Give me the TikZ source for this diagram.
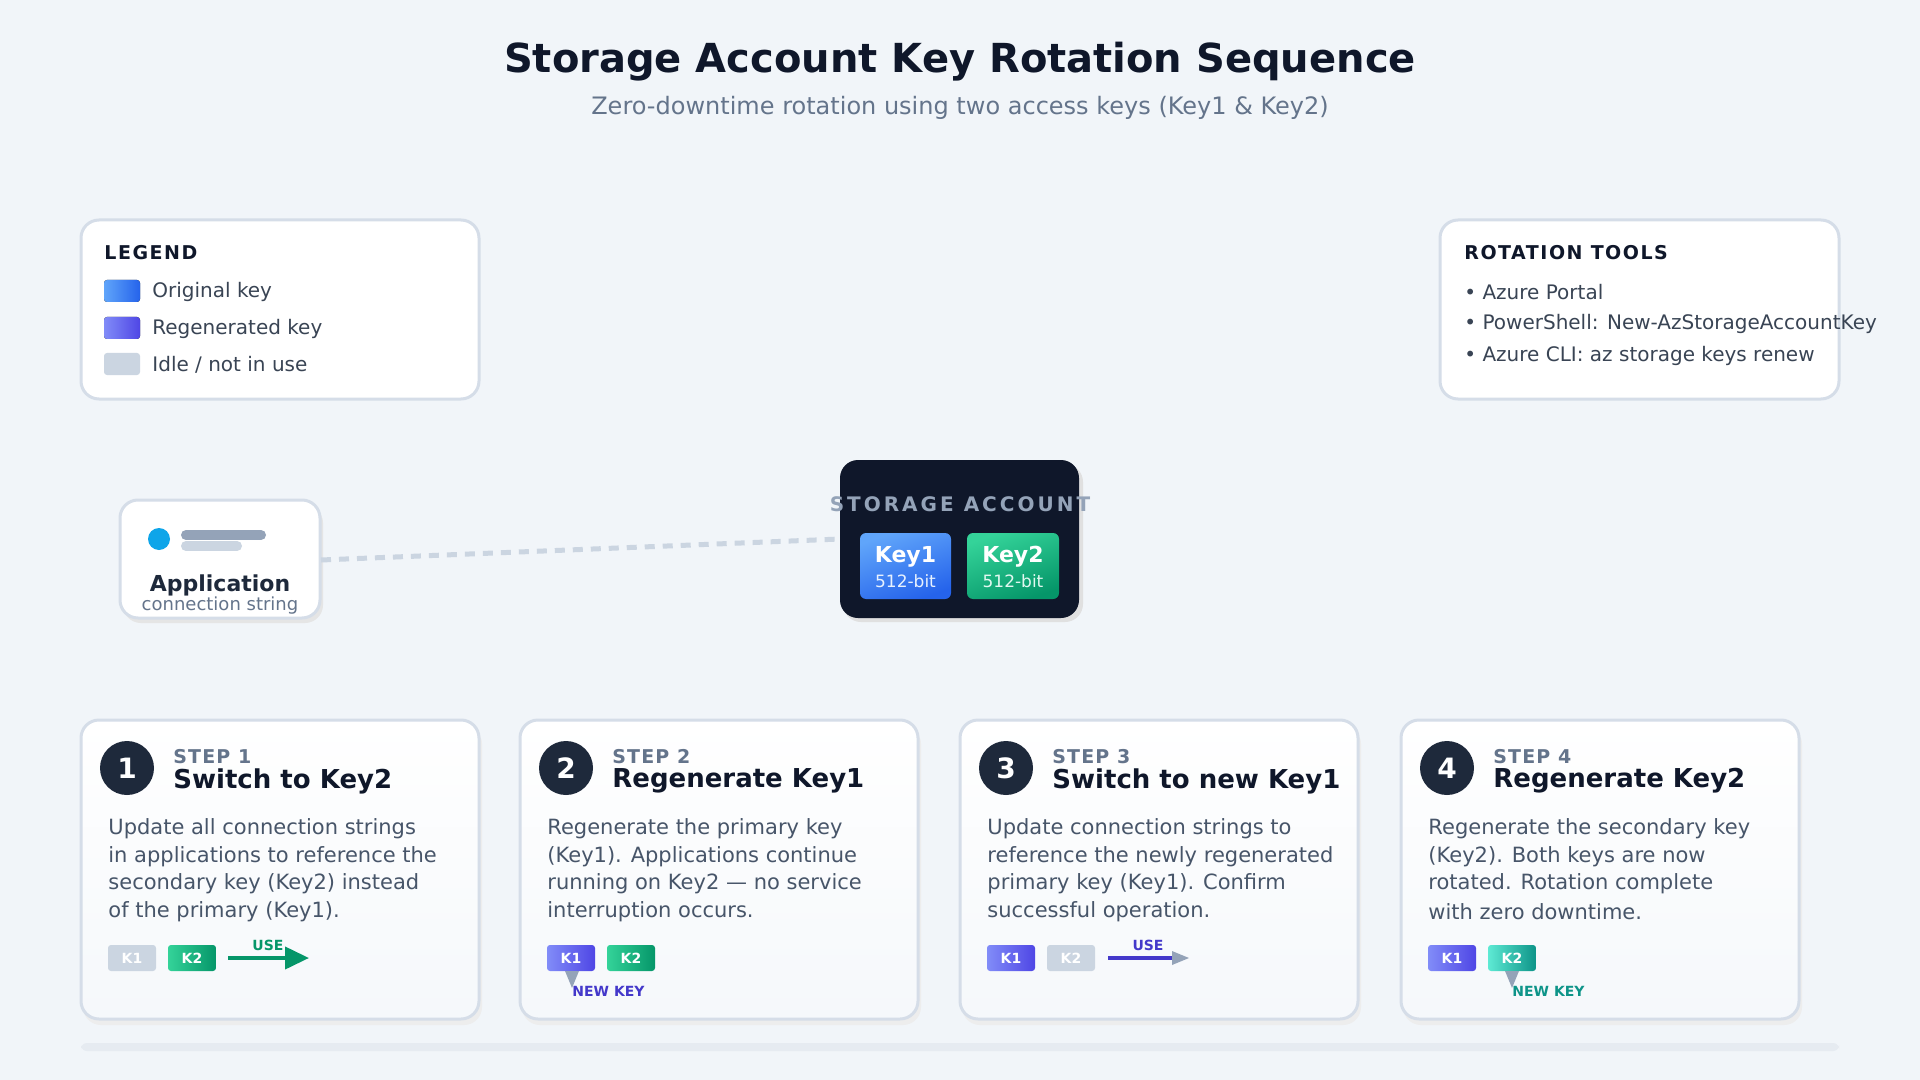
\documentclass[tikz,border=0pt]{standalone}
\usepackage{fontspec}
\setmainfont{DejaVu Sans}
\usetikzlibrary{shapes.geometric,arrows.meta}
\definecolor{bg}{HTML}{F1F5F9}
\definecolor{dark}{HTML}{0F172A}
\definecolor{navy}{HTML}{1E293B}
\definecolor{slate}{HTML}{64748B}
\definecolor{txt}{HTML}{475569}
\definecolor{bord}{HTML}{D5DDE8}
\definecolor{idle}{HTML}{CBD5E1}
\definecolor{sky}{HTML}{0EA5E9}
\definecolor{gline}{HTML}{94A3B8}
\definecolor{blueA}{HTML}{60A5FA}
\definecolor{blueB}{HTML}{2563EB}
\definecolor{purA}{HTML}{818CF8}
\definecolor{purB}{HTML}{4F46E5}
\definecolor{grnA}{HTML}{34D399}
\definecolor{grnB}{HTML}{059669}
\definecolor{tealA}{HTML}{5EEAD4}
\definecolor{tealB}{HTML}{0D9488}
\definecolor{indigo}{HTML}{4338CA}
\tikzset{
  card/.style={draw=bord,line width=1.5pt,rounded corners=9pt,fill=white},
  chip/.style={minimum width=24pt,minimum height=13pt,inner sep=0pt,rounded corners=1.5pt,text=white,font=\bfseries\fontsize{7}{8}\selectfont},
  body/.style={anchor=west,inner sep=0pt,text=txt,font=\fontsize{10.5}{12}\selectfont},
  boxttl/.style={anchor=west,inner sep=0pt,text=dark,font=\bfseries\fontsize{9.5}{11}\selectfont},
  item/.style={anchor=west,inner sep=0pt,text=txt!80!black,font=\fontsize{10}{12}\selectfont},
}
\begin{document}
\begin{tikzpicture}[x=0.5pt,y=-0.5pt]
\fill[bg] (0,0) rectangle (1920,1080);
\useasboundingbox (0,0) rectangle (1920,1080);
\node (title) at (960,62) {\bfseries\fontsize{20}{23}\selectfont\color{dark}Storage Account Key Rotation Sequence};
\node (sub) at (960,108) {\fontsize{12}{14}\selectfont\color{slate}Zero-downtime rotation using two access keys (Key1 \& Key2)};
% legend
\draw[card] (81,220) rectangle (479,399);
\node[boxttl] (lt) at (104,253) {\addfontfeature{LetterSpace=8}LEGEND};
\fill[left color=blueA,right color=blueB,rounded corners=1.5pt] (104,280) rectangle (140,302);
\fill[left color=purA,right color=purB,rounded corners=1.5pt] (104,317) rectangle (140,339);
\fill[idle,rounded corners=1.5pt] (104,353) rectangle (140,375);
\node[item] (l1) at (152,292) {Original key};
\node[item] (l2) at (152,329) {Regenerated key};
\node[item] (l3) at (152,365) {Idle / not in use};
% tools
\draw[card] (1440,220) rectangle (1839,399);
\node[boxttl] (tt) at (1464,253) {\addfontfeature{LetterSpace=8}ROTATION TOOLS};
\node[item] (t1) at (1464,292) {• Azure Portal};
\node[item] (t2) at (1464,324) {• PowerShell: New-AzStorageAccountKey};
\node[item] (t3) at (1464,356) {• Azure CLI: az storage keys renew};
% app
\fill[black!10,rounded corners=9pt] (123,505) rectangle (323,623);
\draw[card] (120,500) rectangle (320,618);
\coordinate (appE) at (321,560);
\fill[sky] (159,539) circle[radius=11];
\draw[line width=5pt,line cap=round,gline] (186,535) -- (261,535);
\draw[line width=5pt,line cap=round,idle] (186,546) -- (237,546);
\node[inner sep=0pt] (app) at (220,585) {\bfseries\fontsize{11}{13}\selectfont\color{navy}Application};
\node[inner sep=0pt] (appsub) at (220,606) {\fontsize{9}{11}\selectfont\color{slate}connection string};
% storage
\fill[black!12,rounded corners=9pt] (843,464) rectangle (1083,622);
\fill[dark,rounded corners=9pt] (840,460) rectangle (1079,618);
\coordinate (stW) at (840,539);
\draw[idle,line width=2.5pt,dash pattern=on 5pt off 4pt] (appE) -- (stW);
\node[inner sep=0pt] (sa) at (960,504) {\bfseries\fontsize{10}{12}\selectfont\addfontfeature{LetterSpace=15}\color{gline}STORAGE ACCOUNT};
\shade[top color=blueA,bottom color=blueB,shading angle=20,rounded corners=3pt] (860,533) rectangle (951,599);
\shade[top color=grnA,bottom color=grnB,shading angle=20,rounded corners=3pt] (967,533) rectangle (1059,599);
\node[inner sep=0pt] (k1) at (905.5,557) {\bfseries\fontsize{11}{13}\selectfont\color{white}Key1};
\node[inner sep=0pt] (k1b) at (905.5,581) {\fontsize{8.5}{10}\selectfont\color{white!85!blueA}512-bit};
\node[inner sep=0pt] (k2) at (1013,557) {\bfseries\fontsize{11}{13}\selectfont\color{white}Key2};
\node[inner sep=0pt] (k2b) at (1013,581) {\fontsize{8.5}{10}\selectfont\color{white!85!grnA}512-bit};
% steps
\foreach \i/\x/\t/\la/\lb/\lc/\ld in {
 1/81/Switch to Key2/Update all connection strings/in applications to reference the/secondary key (Key2) instead/of the primary (Key1).,
 2/520/Regenerate Key1/Regenerate the primary key/(Key1). Applications continue/running on Key2 — no service/interruption occurs.,
 3/960/Switch to new Key1/Update connection strings to/reference the newly regenerated/primary key (Key1). Confirm/successful operation.,
 4/1401/Regenerate Key2/Regenerate the secondary key/(Key2). Both keys are now/rotated. Rotation complete/with zero downtime.}{
 \fill[black!7,rounded corners=9pt] (\x+2,726) rectangle (\x+401,1025);
 \draw[card,top color=white,bottom color=bg!70!white] (\x,720) rectangle (\x+398,1019);
 \fill[navy] (\x+46,768) circle[radius=27];
 \node[inner sep=0pt,text=white,font=\bfseries\fontsize{14}{16}\selectfont] (c\i) at (\x+46,768) {\i};
 \node[anchor=west,inner sep=0pt,text=slate,font=\bfseries\fontsize{9.5}{11}\selectfont] (s\i) at (\x+92,757) {\addfontfeature{LetterSpace=6}STEP \i};
 \node[anchor=west,inner sep=0pt,text=dark,font=\bfseries\fontsize{13}{15}\selectfont] (h\i) at (\x+92,781) {\t};
 \node[body] (ba\i) at (\x+27,829) {\la};
 \node[body] (bb\i) at (\x+27,857) {\lb};
 \node[body] (bc\i) at (\x+27,884) {\lc};
 \node[body] (bd\i) at (\x+27,912) {\ld};
}
% step chips
\node[chip,fill=idle] (a1) at (132,958) {K1};
\node[chip,left color=grnA,right color=grnB] (a2) at (192,958) {K2};
\coordinate (u1s) at (228,958); \coordinate (u1e) at (309,958);
\draw[grnB,line width=2pt,-{Triangle[length=12pt,width=11pt]}] (u1s) -- (u1e);
\node[inner sep=0pt,text=grnB,font=\bfseries\fontsize{7}{8}\selectfont] (use1) at (268,945) {USE};

\node[chip,left color=purA,right color=purB] (b1) at (571,958) {K1};
\node[chip,left color=grnA,right color=grnB] (b2) at (631,958) {K2};
\fill[gline] (565,971) -- (579,971) -- (572,988) -- cycle;
\node[anchor=west,inner sep=0pt,text=indigo,font=\bfseries\fontsize{7}{8}\selectfont] (nk2) at (572,991) {NEW KEY};

\node[chip,left color=purA,right color=purB] (d1) at (1011,958) {K1};
\node[chip,fill=idle] (d2) at (1071,958) {K2};
\coordinate (u3s) at (1108,958); \coordinate (u3e) at (1189,958);
\draw[indigo,line width=2pt] (u3s) -- (1172,958);
\fill[gline] (1172,951) -- (u3e) -- (1172,965) -- cycle;
\node[inner sep=0pt,text=indigo,font=\bfseries\fontsize{7}{8}\selectfont] (use3) at (1148,945) {USE};

\node[chip,left color=purA,right color=purB] (e1) at (1452,958) {K1};
\node[chip,left color=tealA,right color=tealB] (e2) at (1512,958) {K2};
\fill[gline] (1505,971) -- (1519,971) -- (1512,988) -- cycle;
\node[anchor=west,inner sep=0pt,text=tealB,font=\bfseries\fontsize{7}{8}\selectfont] (nk4) at (1512,991) {NEW KEY};
% bottom bar
\fill[bord!60,rounded corners=3pt] (81,1043) rectangle (1839,1051);
\end{tikzpicture}
\end{document}
